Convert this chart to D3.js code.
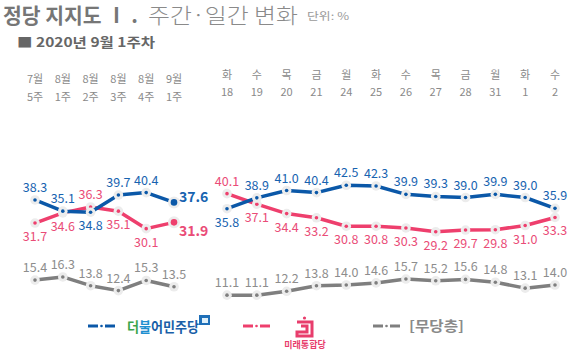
<!DOCTYPE html>
<html>
<head>
<meta charset="utf-8">
<script src="https://cdn.jsdelivr.net/npm/d3@7"></script>
<style>
  body { margin: 0; background: #fff; }
  svg { font-family: "Noto Sans CJK KR", "Noto Sans", sans-serif; }
</style>
</head>
<body>
<svg id="chart" width="581" height="354"></svg>
<script>
// column headers
const weekMonths = ['7월', '8월', '8월', '8월', '8월', '9월'];
const weekNums = ['5주', '1주', '2주', '3주', '4주', '1주'];
const dayNames = ['화', '수', '목', '금', '월', '화', '수', '목', '금', '월', '화', '수'];
const dayDates = ['18', '19', '20', '21', '24', '25', '26', '27', '28', '31', '1', '2'];

// weekly series
const weeklyDem = [38.3, 35.1, 34.8, 39.7, 40.4, 37.6];
const weeklyUnited = [31.7, 34.6, 36.3, 35.1, 30.1, 31.9];
const weeklyNone = [15.4, 16.3, 13.8, 12.4, 15.3, 13.5];

// daily series
const dailyDem = [35.8, 38.9, 41.0, 40.4, 42.5, 42.3, 39.9, 39.3, 39.0, 39.9, 39.0, 35.9];
const dailyUnited = [40.1, 37.1, 34.4, 33.2, 30.8, 30.8, 30.3, 29.2, 29.7, 29.8, 31.0, 33.3];
const dailyNone = [11.1, 11.1, 12.2, 13.8, 14.0, 14.6, 15.7, 15.2, 15.6, 14.8, 13.1, 14.0];

const BLUE = '#0b58a8', BLUE_T = '#1763b0';
const RED = '#ee3f6d', RED_T = '#ea4c77';
const GREY = '#7f7f7f', GREY_T = '#8d8d8d';

const svg = d3.select('#chart');

// title, stretched to the reference widths
svg.append('text').attr('x', 3).attr('y', 23)
    .attr('textLength', 135).attr('lengthAdjust', 'spacingAndGlyphs')
    .attr('fill', '#767676').style('font-size', '21px').style('font-weight', 'bold')
    .text('정당 지지도 Ⅰ .');
svg.append('text').attr('x', 148).attr('y', 23)
    .attr('textLength', 150).attr('lengthAdjust', 'spacingAndGlyphs')
    .attr('fill', '#8a8a8a').style('font-size', '21px').style('font-weight', 300)
    .text('주간·일간 변화');
svg.append('text').attr('x', 307).attr('y', 20)
    .attr('textLength', 42).attr('lengthAdjust', 'spacingAndGlyphs')
    .attr('fill', '#9a9a9a').style('font-size', '10px')
    .text('단위: %');

svg.append('text')
    .attr('x', 17).attr('y', 47)
    .attr('textLength', 138).attr('lengthAdjust', 'spacingAndGlyphs')
    .attr('fill', '#666')
    .style('font-size', '13px').style('font-weight', 'bold')
    .text('■ 2020년 9월 1주차');

const y = d3.scaleLinear().domain([0, 50]).range([334, 159]);
const xWeek = d3.scalePoint().domain(d3.range(weeklyDem.length)).range([35, 174]);
const xDay = d3.scalePoint().domain(d3.range(dailyDem.length)).range([227, 555]);

// headers
function headers(x, top, bottom, y1, y2) {
  const g = svg.append('g').attr('fill', '#8a8a8a').style('font-size', '11px').attr('text-anchor', 'middle');
  g.selectAll('.h1').data(top).join('text').attr('class', 'h1')
      .attr('x', (d, i) => x(i)).attr('y', y1).text(d => d);
  g.selectAll('.h2').data(bottom).join('text').attr('class', 'h2')
      .attr('x', (d, i) => x(i)).attr('y', y2).text(d => d);
}
headers(xWeek, weekMonths, weekNums, 83, 101);
headers(xDay, dayNames, dayDates, 79, 96);

// a = above, b = below, e = emphasised last point
function series(x, values, color, textColor, pos) {
  const g = svg.append('g');
  const line = d3.line().x((d, i) => x(i)).y(d => y(d));
  g.append('path')
      .datum(values)
      .attr('d', line)
      .attr('fill', 'none')
      .attr('stroke', color)
      .attr('stroke-width', 3.5)
      .attr('stroke-linejoin', 'round');

  const pts = g.selectAll('.pt').data(values).join('g').attr('class', 'pt')
      .attr('transform', (d, i) => `translate(${x(i)},${y(d)})`);
  pts.append('circle').attr('r', (d, i) => pos[i] === 'e' ? 6 : 4.8).attr('fill', '#ececec');
  pts.append('circle').attr('r', (d, i) => pos[i] === 'e' ? 3.3 : 1.8).attr('fill', color);

  g.selectAll('.lbl').data(values).join('text').attr('class', 'lbl')
      .attr('x', (d, i) => pos[i] === 'e' ? x(i) + 5 : x(i))
      .attr('y', (d, i) => {
        if (pos[i] === 'e') return y(d) + (color === BLUE ? 0 : 14);
        return pos[i] === 'a' ? y(d) - 8 : y(d) + 18;
      })
      .attr('text-anchor', (d, i) => pos[i] === 'e' ? 'start' : 'middle')
      .attr('fill', textColor)
      .style('font-size', (d, i) => pos[i] === 'e' ? '14px' : '12.5px')
      .style('font-weight', (d, i) => pos[i] === 'e' ? 'bold' : 'normal')
      .text(d => d.toFixed(1));
}

series(xWeek, weeklyNone, GREY, GREY_T, ['a', 'a', 'a', 'a', 'a', 'a']);
series(xWeek, weeklyUnited, RED, RED_T, ['b', 'b', 'a', 'b', 'b', 'e']);
series(xWeek, weeklyDem, BLUE, BLUE_T, ['a', 'a', 'b', 'a', 'a', 'e']);

series(xDay, dailyNone, GREY, GREY_T, dailyNone.map(() => 'a'));
series(xDay, dailyUnited, RED, RED_T, dailyUnited.map((d, i) => i === 0 ? 'a' : 'b'));
series(xDay, dailyDem, BLUE, BLUE_T, dailyDem.map((d, i) => i === 0 ? 'b' : 'a'));

// legend
function dashDot(x0, yy, color) {
  const g = svg.append('g').attr('stroke', color).attr('stroke-width', 3);
  g.append('line').attr('x1', x0).attr('x2', x0 + 10).attr('y1', yy).attr('y2', yy);
  g.append('line').attr('x1', x0 + 17).attr('x2', x0 + 27).attr('y1', yy).attr('y2', yy);
  g.append('circle').attr('cx', x0 + 13.5).attr('cy', yy).attr('r', 1.3).attr('fill', color).attr('stroke', 'none');
}
dashDot(88, 326, BLUE);
dashDot(243, 326, RED);
dashDot(373, 326, GREY);

const dem = svg.append('text').attr('x', 127).attr('y', 332)
    .attr('textLength', 72).attr('lengthAdjust', 'spacingAndGlyphs')
    .style('font-size', '14px').style('font-weight', 'bold');
dem.append('tspan').attr('fill', '#3aa54a').text('더');
dem.append('tspan').attr('fill', '#1f8fd0').text('불');
dem.append('tspan').attr('fill', '#1a5fa8').text('어민주당');
svg.append('rect').attr('x', 199).attr('y', 315).attr('width', 11).attr('height', 10).attr('fill', '#1f6fb8');
svg.append('rect').attr('x', 202).attr('y', 318).attr('width', 6).attr('height', 5).attr('fill', '#dff0fa');

// 미래통합당 mark
svg.append('path')
    .attr('d', 'M297,322 h15 v14 h-15 v-4 h10 v-6 h-6')
    .attr('fill', 'none').attr('stroke', '#e83d6c').attr('stroke-width', 3);
svg.append('circle').attr('cx', 304.5).attr('cy', 318).attr('r', 1.6).attr('fill', '#e83d6c');
svg.append('text').attr('x', 305).attr('y', 348).attr('text-anchor', 'middle')
    .attr('fill', '#e83d6c').style('font-size', '9px').style('font-weight', 'bold').text('미래통합당');

svg.append('text').attr('x', 409).attr('y', 331)
    .attr('textLength', 55).attr('lengthAdjust', 'spacingAndGlyphs')
    .attr('fill', '#8a8a8a').style('font-size', '14px').style('font-weight', 'bold')
    .text('[무당층]');
</script>
</body>
</html>
